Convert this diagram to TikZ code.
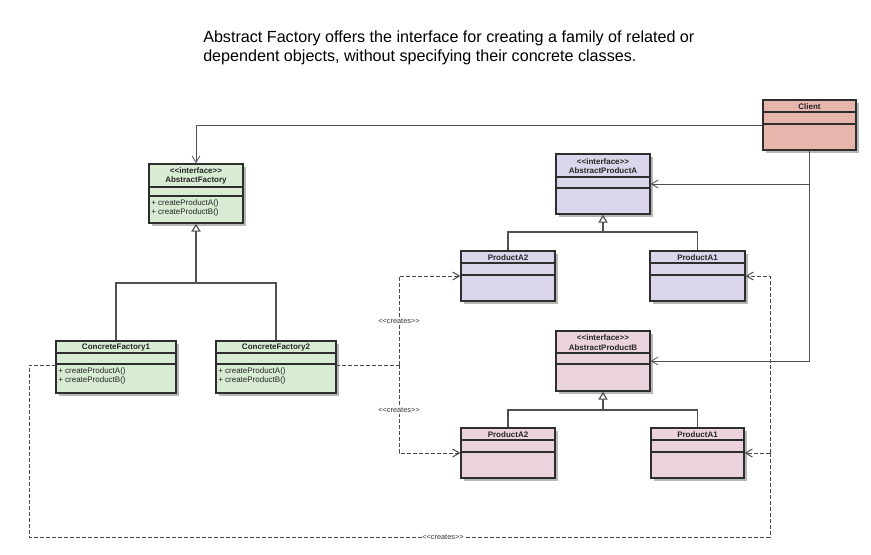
\documentclass[tikz,border=0pt]{standalone}
\usepackage{fontspec}
\setmainfont{Liberation Sans}
\usetikzlibrary{arrows.meta,fit}
\definecolor{fgreen}{HTML}{D8EBD3}
\definecolor{fpurple}{HTML}{DAD5EB}
\definecolor{fpink}{HTML}{EBD3DE}
\definecolor{fclient}{HTML}{E6B5AC}
\definecolor{shadowc}{HTML}{B8B8B8}
\definecolor{borderc}{HTML}{2E2E2E}
\definecolor{linec}{HTML}{505050}
\definecolor{dashc}{HTML}{4A4A4A}
\newcommand\classbox[9]{%
  \fill[shadowc] (#2+3,#3+3) rectangle (#4+3,#5+3);
  \node[fit={(#2,#3) (#4,#5)}, inner sep=0pt, draw=borderc, line width=1.1pt, fill=#8] (#1) {};
  \draw[borderc, line width=1.1pt] (#2,#6) -- (#4,#6) (#2,#7) -- (#4,#7);
  \node[headtxt] at ({(#2+#4)/2},{(#3+#6)/2+0.5}) {#9};
}
\tikzset{
  headtxt/.style={font=\fontsize{6}{7}\selectfont\bfseries, align=center, inner sep=0pt, text=black!85},
  optxt/.style={font=\fontsize{6}{7.2}\selectfont, align=left, inner sep=0pt, anchor=north west, text=black!85},
  assoc/.style={linec, line width=0.6pt, -{Straight Barb[length=5pt,width=6pt]}},
  gen/.style={linec, line width=0.9pt},
  genarrow/.style={linec, line width=0.9pt, -{Triangle[open,length=6pt,width=7pt,fill=white]}},
  dep/.style={dashc, line width=0.75pt, dash pattern=on 3pt off 1.5pt},
  deparrow/.style={dep, -{Straight Barb[length=5pt,width=6pt]}},
  lbl/.style={font=\fontsize{5.5}{6}\selectfont, fill=white, inner sep=1pt, text=black!80}
}
\begin{document}
\begin{tikzpicture}[x=0.75pt,y=-0.75pt]
\useasboundingbox (0,0) rectangle (871,554);
% title
\node[anchor=north west, inner sep=0pt, align=left, font=\fontsize{12.1}{13.6}\selectfont] (title) at (203,31)
  {Abstract Factory offers the interface for creating a family of related or\\dependent objects, without specifying their concrete classes.};
% boxes
\classbox{client}{763}{100}{856}{150}{112}{124}{fclient}{Client}
\classbox{af}{149}{164}{243}{223}{187}{196}{fgreen}{<{}<interface>{}>\\AbstractFactory}
\node[optxt] (afops) at (151,199) {+ createProductA()\\+ createProductB()};
\classbox{cfa}{56}{341}{176}{393}{353}{364}{fgreen}{ConcreteFactory1}
\node[optxt] (cfaops) at (58,367) {+ createProductA()\\+ createProductB()};
\classbox{cfb}{216}{341}{336}{393}{353}{364}{fgreen}{ConcreteFactory2}
\node[optxt] (cfbops) at (218,367) {+ createProductA()\\+ createProductB()};
\classbox{apa}{556}{154}{650}{214}{177}{188}{fpurple}{<{}<interface>{}>\\AbstractProductA}
\classbox{paa}{461}{251}{555}{301}{263}{275}{fpurple}{ProductA2}
\classbox{pab}{650}{251}{745}{301}{263}{275}{fpurple}{ProductA1}
\classbox{apb}{556}{331}{650}{391}{353}{364}{fpink}{<{}<interface>{}>\\AbstractProductB}
\classbox{pba}{461}{428}{555}{478}{440}{452}{fpink}{ProductA2}
\classbox{pbb}{651}{428}{744}{478}{440}{452}{fpink}{ProductA1}
% client associations
\draw[assoc] (client.west) -| (af.north);
\draw[assoc] (client.south) |- (apa.east);
\draw[assoc] (client.south) |- (apb.east);
% generalisations
\coordinate (jf) at (196,283);
\draw[genarrow] (jf) -- (af.south);
\draw[gen] (cfa.north) |- (jf) -| (cfb.north);
\coordinate (ja) at (603,232);
\draw[genarrow] (ja) -- (apa.south);
\draw[gen] (paa.north) |- (ja) -| (pab.north);
\coordinate (jb) at (603,410);
\draw[genarrow] (jb) -- (apb.south);
\draw[gen] (pba.north) |- (jb) -| (pbb.north);
% creates from ConcreteFactory2
\coordinate (d1) at (399,365);
\coordinate (d1s) at (336,365);
\draw[dep] (d1s) -- (d1);
\draw[deparrow] (d1) |- (paa.west);
\draw[deparrow] (d1) |- (pba.west);
\node[lbl] (lc1) at (399,321) {<{}<creates>{}>};
\node[lbl] (lc2) at (399,410) {<{}<creates>{}>};
% creates from ConcreteFactory1
\coordinate (e0) at (56,365);
\coordinate (e1) at (29,365);
\coordinate (e2) at (29,537);
\coordinate (e3) at (770,537);
\coordinate (e4) at (770,453);
\draw[dep] (e0) -- (e1) -- (e2) -- (e3) -- (e4);
\draw[deparrow] (e4) -- (pbb.east |- e4);
\draw[deparrow] (e4) |- (pab.east);
\node[lbl, inner sep=0.5pt] (lc3) at (443,537) {<{}<creates>{}>};
\end{tikzpicture}
\end{document}
